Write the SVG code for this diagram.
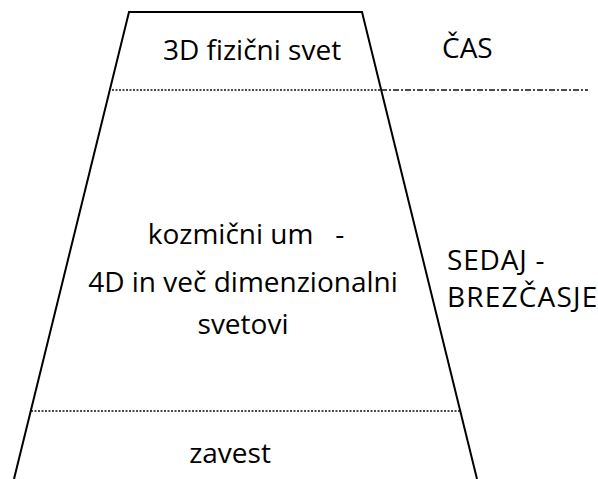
<svg xmlns="http://www.w3.org/2000/svg" width="598" height="479" viewBox="0 0 598 479">
<style>
  text { font-family: "Open Sans", "Noto Sans", "Liberation Sans", sans-serif; font-size: 28px; fill: #000; }
  .mid { text-anchor: middle; }
  .outline { fill: none; stroke: #000; stroke-width: 2; }
  .dot { fill: none; stroke: #111; stroke-width: 1.5; stroke-dasharray: 2 1.5; }
  .dashdot { fill: none; stroke: #111; stroke-width: 1.5; stroke-dasharray: 6 2 2 2; }
</style>
<rect x="0" y="0" width="598" height="479" fill="#fff"/>
<g id="trapezoid">
  <polyline class="outline" points="14,479 129,12 362,12 477,479"/>
</g>
<g id="connectors">
  <line class="dot" x1="112" y1="90" x2="381" y2="90"/>
  <line class="dashdot" x1="381" y1="90" x2="588" y2="90"/>
  <line class="dot" x1="31" y1="411" x2="460" y2="411"/>
</g>
<g id="physical-world">
  <text class="mid" x="252" y="60">3D fizični svet</text>
</g>
<g id="time">
  <text x="442" y="58">ČAS</text>
</g>
<g id="cosmic-mind">
  <text class="mid" x="246" y="244" xml:space="preserve">kozmični um   -</text>
  <text class="mid" x="243" y="292">4D in več dimenzionalni</text>
  <text class="mid" x="243" y="334">svetovi</text>
</g>
<g id="now-timeless">
  <text x="447" y="270" letter-spacing="0.8">SEDAJ -</text>
  <text x="447" y="307" letter-spacing="1.2">BREZČASJE</text>
</g>
<g id="consciousness">
  <text class="mid" x="230" y="463">zavest</text>
</g>
</svg>
